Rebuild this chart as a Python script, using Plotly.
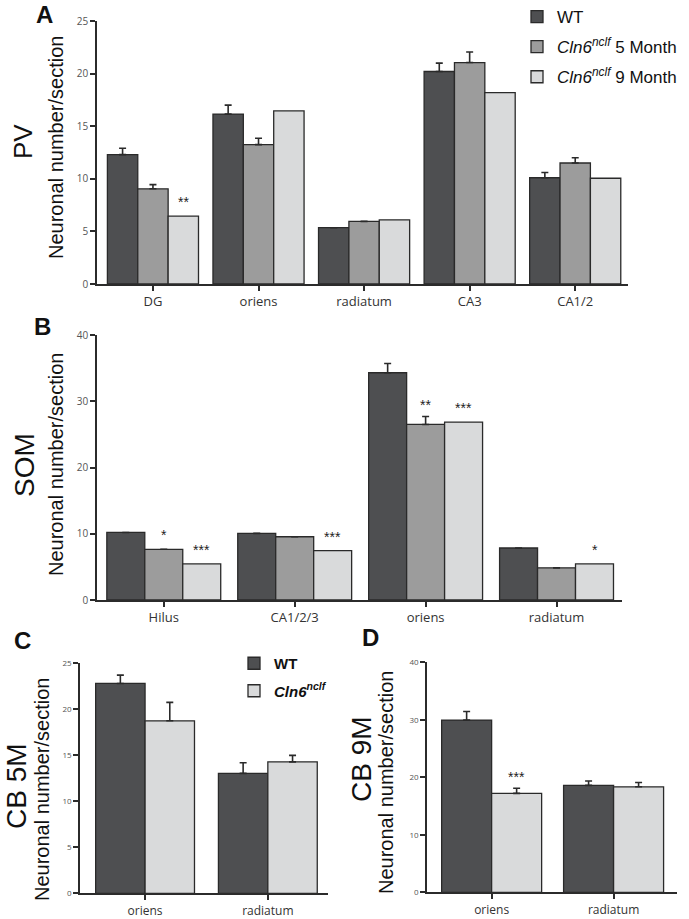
import plotly.graph_objects as go

W, H = 689, 919

# ---------------- data ----------------
a_cats = ["DG", "oriens", "radiatum", "CA3", "CA1/2"]
a_wt = [12.3, 16.15, 5.35, 20.2, 10.1]
a_wt_err = [0.6, 0.85, None, 0.8, 0.5]
a_m5 = [9.05, 13.25, 5.95, 21.05, 11.5]
a_m5_err = [0.4, 0.6, None, 1.0, 0.5]
a_m9 = [6.45, 16.45, 6.1, 18.2, 10.05]
a_m9_err = [None, None, None, None, None]
a_stars_m9 = ["**", "", "", "", ""]

b_cats = ["Hilus", "CA1/2/3", "oriens", "radiatum"]
b_wt = [10.2, 10.05, 34.3, 7.85]
b_wt_err = [None, None, 1.4, None]
b_m5 = [7.65, 9.55, 26.5, 4.85]
b_m5_err = [None, None, 1.2, None]
b_m9 = [5.45, 7.45, 26.85, 5.45]
b_m9_err = [None, None, None, None]
b_stars_m5 = ["*", "", "**", ""]
b_stars_m9 = ["***", "***", "***", "*"]

c_cats = ["oriens", "radiatum"]
c_wt = [22.75, 13.0]
c_wt_err = [0.9, 1.15]
c_ko = [18.7, 14.25]
c_ko_err = [2.0, 0.7]

d_cats = ["oriens", "radiatum"]
d_wt = [29.95, 18.6]
d_wt_err = [1.5, 0.75]
d_ko = [17.2, 18.35]
d_ko_err = [0.9, 0.75]
d_stars_ko = ["***", ""]

# ---------------- style ----------------
C_WT = "#4e4f51"
C_M5 = "#9c9c9c"
C_M9 = "#d9dadb"
EDGE = "#2a2a2a"
AXC = "#2b2b2b"

KO = "<i>Cln6</i><sup><i>nclf</i></sup>"

fig = go.Figure()


def px_x(p):
    return p / W


def px_y(p):
    return 1 - p / H


panels = {
    # name: (xaxis, yaxis, xdomain px, ydomain px, ymax, dtick, xrange, bargap, ytickfont, xtickfont)
    "A": ("x", "y", (97, 628), (21, 284), 25, 5, (-0.53, 4.5), 0.137, 10, 13),
    "B": ("x2", "y2", (97, 622), (335, 600), 40, 10, (-0.51, 3.5), 0.13, 10, 13),
    "C": ("x3", "y3", (80, 328), (662.7, 893.3), 25, 5, (-0.53, 1.49), 0.195, 8, 12),
    "D": ("x4", "y4", (427, 677), (662.3, 892.3), 40, 10, (-0.53, 1.52), 0.18, 8, 12),
}

annotations = []


def add_group(panel, cats, series, legend=None):
    xa, ya = panels[panel][0], panels[panel][1]
    gap = panels[panel][7]
    n = len(series)
    w = (1 - gap) / n
    for k, (name, vals, errs, color, stars, show) in enumerate(series):
        off = -(1 - gap) / 2 + k * w
        tr = go.Bar(
            x=cats, y=vals, name=name, xaxis=xa, yaxis=ya,
            width=w, offset=off,
            marker=dict(color=color, line=dict(color=EDGE, width=1.3)),
            showlegend=show, legendgroup=f"{panel}{k}",
        )
        if legend:
            tr.legend = legend
        if any(e is not None for e in errs):
            tr.error_y = dict(type="data", symmetric=False,
                              array=[e if e is not None else float("nan") for e in errs],
                              arrayminus=[0] * len(errs),
                              color=EDGE, thickness=1.6, width=3.5)
        fig.add_trace(tr)
        if stars:
            for i, s in enumerate(stars):
                if not s:
                    continue
                top = vals[i] + (errs[i] or 0)
                annotations.append(dict(
                    x=i + off + w / 2, y=top, xref=xa, yref=ya,
                    text=s, showarrow=False, yanchor="bottom", xanchor="center",
                    yshift=1 if errs[i] else 4,
                    font=dict(family="Liberation Sans, Arial", size=14, color="#222")))


add_group("A", a_cats, [
    ("WT", a_wt, a_wt_err, C_WT, None, True),
    (KO + " 5 Month", a_m5, a_m5_err, C_M5, None, True),
    (KO + " 9 Month", a_m9, a_m9_err, C_M9, a_stars_m9, True),
], legend="legend")

add_group("B", b_cats, [
    ("WT", b_wt, b_wt_err, C_WT, None, False),
    (KO + " 5 Month", b_m5, b_m5_err, C_M5, b_stars_m5, False),
    (KO + " 9 Month", b_m9, b_m9_err, C_M9, b_stars_m9, False),
])

add_group("C", c_cats, [
    ("<b>WT</b>", c_wt, c_wt_err, C_WT, None, True),
    ("<b>" + KO + "</b>", c_ko, c_ko_err, C_M9, None, True),
], legend="legend2")

add_group("D", d_cats, [
    ("WT", d_wt, d_wt_err, C_WT, None, False),
    (KO, d_ko, d_ko_err, C_M9, d_stars_ko, False),
])

layout_axes = {}
for key, (xa, ya, xd, yd, ymax, dt, xr, gap, ytf, xtf) in panels.items():
    xname = "xaxis" + xa[1:]
    yname = "yaxis" + ya[1:]
    layout_axes[xname] = dict(
        domain=[px_x(xd[0]), px_x(xd[1])], anchor=ya, range=list(xr),
        showline=True, linecolor=AXC, linewidth=1.6, ticks="outside",
        ticklen=5, tickwidth=1.6, tickcolor=AXC, showgrid=False, zeroline=False,
        tickfont=dict(family="Open Sans", size=xtf, color="#333"), fixedrange=True,
    )
    layout_axes[yname] = dict(
        domain=[px_y(yd[1]), px_y(yd[0])], anchor=xa, range=[0, ymax], dtick=dt,
        showline=True, linecolor=AXC, linewidth=1.6, ticks="outside",
        ticklen=5, tickwidth=1.6, tickcolor=AXC, showgrid=False, zeroline=False,
        tickfont=dict(family="Open Sans", size=ytf, color="#555"), fixedrange=True,
    )


def lab(text, x, y, size, angle=0, bold=False):
    annotations.append(dict(
        text=f"<b>{text}</b>" if bold else text, x=px_x(x), y=px_y(y),
        xref="paper", yref="paper", showarrow=False, textangle=angle,
        xanchor="center", yanchor="middle",
        font=dict(family="Liberation Sans, Arial", size=size, color="#111")))


lab("A", 44, 15, 24, bold=True)
lab("B", 42, 326, 24, bold=True)
lab("C", 22, 640, 24, bold=True)
lab("D", 370, 637, 24, bold=True)

lab("PV", 23, 142, 26, angle=-90)
lab("Neuronal number/section", 56, 148, 20, angle=-90)
lab("SOM", 24, 465, 28, angle=-90)
lab("Neuronal number/section", 56, 465, 20, angle=-90)
lab("CB 5M", 16, 786, 28, angle=-90)
lab("Neuronal number/section", 42, 790, 20, angle=-90)
lab("CB 9M", 361, 759, 28, angle=-90)
lab("Neuronal number/section", 386, 783, 20, angle=-90)

fig.update_layout(
    width=W, height=H, margin=dict(l=0, r=0, t=0, b=0, autoexpand=False),
    paper_bgcolor="white", plot_bgcolor="white",
    barmode="overlay",
    annotations=annotations,
    legend=dict(x=px_x(517), y=px_y(-1), xanchor="left", yanchor="top",
                font=dict(family="Liberation Sans, Arial", size=17, color="#111"),
                tracegroupgap=5, bgcolor="rgba(0,0,0,0)"),
    legend2=dict(x=px_x(234), y=px_y(647), xanchor="left", yanchor="top",
                 font=dict(family="Liberation Sans, Arial", size=15, color="#111"),
                 tracegroupgap=5, bgcolor="rgba(0,0,0,0)"),
    showlegend=True,
    **layout_axes,
)

fig.write_html(
    "out.html",
    config={"displayModeBar": False},
    post_script="document.body.style.margin='0';document.body.style.overflow='hidden';",
)
